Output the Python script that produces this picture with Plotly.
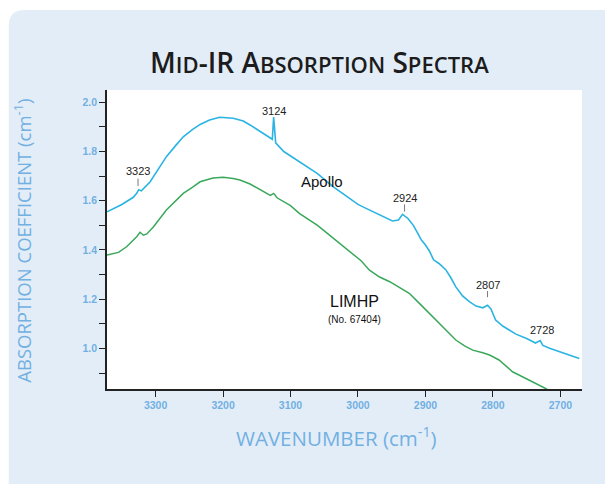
import plotly.graph_objects as go

# ---------------- data ----------------
apollo_wn = [3372, 3350, 3333, 3328, 3325, 3321, 3308, 3295, 3284, 3270, 3259, 3245, 3234, 3220,
             3205, 3185, 3170, 3160, 3145, 3131, 3127, 3125, 3122, 3110, 3087, 3060, 3037, 3013,
             3000, 2988, 2975, 2963, 2949, 2940, 2934, 2926, 2918, 2912, 2906, 2900, 2894, 2888,
             2880, 2870, 2863, 2855, 2845, 2835, 2825, 2815, 2808, 2803, 2796, 2785, 2766, 2750,
             2737, 2730, 2726, 2715, 2697, 2672]
apollo_abs = [1.555, 1.585, 1.614, 1.630, 1.645, 1.640, 1.677, 1.730, 1.779, 1.825, 1.860, 1.890, 1.910, 1.928,
              1.939, 1.935, 1.924, 1.908, 1.880, 1.854, 1.850, 1.940, 1.835, 1.800, 1.759, 1.710, 1.657, 1.612,
              1.585, 1.569, 1.552, 1.535, 1.518, 1.522, 1.545, 1.528, 1.500, 1.470, 1.440, 1.420, 1.395, 1.360,
              1.345, 1.320, 1.290, 1.250, 1.213, 1.190, 1.172, 1.165, 1.175, 1.160, 1.115, 1.090, 1.058, 1.040,
              1.022, 1.032, 1.012, 1.000, 0.983, 0.959]

limhp_wn = [3372, 3355, 3343, 3333, 3328, 3323, 3318, 3313, 3303, 3284, 3270, 3259, 3245, 3234, 3215,
            3200, 3185, 3175, 3160, 3146, 3130, 3125, 3120, 3100, 3087, 3060, 3040, 3013, 2995, 2983,
            2968, 2953, 2940, 2924, 2909, 2895, 2884, 2870, 2855, 2842, 2830, 2815, 2805, 2791, 2780,
            2771, 2760, 2746, 2722, 2712]
limhp_abs = [1.379, 1.390, 1.413, 1.440, 1.454, 1.472, 1.460, 1.465, 1.494, 1.562, 1.600, 1.630, 1.655, 1.677, 1.692,
             1.695, 1.690, 1.684, 1.668, 1.646, 1.622, 1.630, 1.612, 1.580, 1.549, 1.500, 1.455, 1.395, 1.355, 1.318,
             1.290, 1.271, 1.250, 1.224, 1.183, 1.145, 1.115, 1.075, 1.034, 1.010, 0.993, 0.982, 0.973, 0.953, 0.928,
             0.905, 0.890, 0.871, 0.837, 0.820]

peak_labels = ["3323", "3124", "2924", "2807", "2728"]
peak_label_x = [3326, 3125, 2931, 2808, 2727]
peak_label_y = [1.722, 1.963, 1.611, 1.257, 1.074]
peak_has_tick = [True, False, True, True, False]
peak_tick_top = [1.690, None, 1.585, 1.233, None]
peak_tick_bot = [1.660, None, 1.556, 1.208, None]

x_ticks = [3300, 3200, 3100, 3000, 2900, 2800, 2700]
y_ticks = [1.0, 1.2, 1.4, 1.6, 1.8, 2.0]

# ---------------- figure ----------------
OFF = 8  # default page body margin
W, H = 613, 484
# plot area in page pixels: x 107.3..582.5, y 90..389
L = 107.3 - OFF
R = W - (582.5 - OFF)
T = 90 - OFF
B = H - (389 - OFF)
pw, ph = W - L - R, H - T - B

def px2paper(x, y):
    """page-pixel coordinates -> paper coordinates"""
    fx, fy = x - OFF, y - OFF
    return (fx - L) / pw, (H - B - fy) / ph

BLUE = "#2ab4e2"
GREEN = "#3aa85a"
PANEL = "#e3edf8"
LABEL_BLUE = "#72b0e2"

fig = go.Figure()
fig.add_trace(go.Scatter(x=apollo_wn, y=apollo_abs, mode="lines",
                         line=dict(color=BLUE, width=1.6), name="Apollo", hoverinfo="skip"))
fig.add_trace(go.Scatter(x=limhp_wn, y=limhp_abs, mode="lines",
                         line=dict(color=GREEN, width=1.5), name="LIMHP", hoverinfo="skip"))

shapes = []
p0 = px2paper(9, 500)
p1 = px2paper(9, 26)
pc = px2paper(9, 10)
p2 = px2paper(25, 10)
p3 = px2paper(630, 10)
p4 = px2paper(630, 500)
path = (f"M {p0[0]},{p0[1]} L {p1[0]},{p1[1]} Q {pc[0]},{pc[1]} {p2[0]},{p2[1]} "
        f"L {p3[0]},{p3[1]} L {p4[0]},{p4[1]} Z")
shapes.append(dict(type="path", path=path, xref="paper", yref="paper",
                   fillcolor=PANEL, line=dict(width=0), layer="below"))
shapes.append(dict(type="rect", x0=0, x1=1, y0=0, y1=1, xref="paper", yref="paper",
                   fillcolor="white", line=dict(width=0), layer="below"))

annotations = []
for lab, lx, ly, has, tt, tb in zip(peak_labels, peak_label_x, peak_label_y,
                                     peak_has_tick, peak_tick_top, peak_tick_bot):
    annotations.append(dict(x=lx, y=ly, text=lab, showarrow=False, xref="x", yref="y",
                            xanchor="center", yanchor="middle",
                            font=dict(family="Liberation Sans, Arial", size=11, color="#222")))
    if has:
        shapes.append(dict(type="line", x0=lx, x1=lx, y0=tb, y1=tt, xref="x", yref="y",
                           line=dict(color="#555", width=0.8)))

annotations.append(dict(x=3054, y=1.68, text="Apollo", showarrow=False,
                        xanchor="center", yanchor="middle",
                        font=dict(family="Liberation Sans, Arial", size=15, color="#111")))
annotations.append(dict(x=3005, y=1.19, text="LIMHP", showarrow=False,
                        xanchor="center", yanchor="middle",
                        font=dict(family="Liberation Sans, Arial", size=16, color="#111")))
annotations.append(dict(x=3005, y=1.118, text="(No. 67404)", showarrow=False,
                        xanchor="center", yanchor="middle",
                        font=dict(family="Liberation Sans, Arial", size=10, color="#111")))

# title with small caps (initial capitals and acronym "IR" full size)
def small_caps(words, big, small):
    out = []
    for w, bigmask in words:
        s = ""
        for ch, isbig in zip(w, bigmask):
            size = big if isbig == "1" else small
            s += f"<span style='font-size:{size}px'>{ch}</span>"
        out.append(s)
    return " ".join(out)

title_text = small_caps([("MID-IR", "100111"), ("ABSORPTION", "1000000000"), ("SPECTRA", "1000000")],
                        big=28, small=22)
tx, ty = px2paper(320, 62)
annotations.append(dict(x=tx, y=ty, xref="paper", yref="paper", text=title_text, showarrow=False,
                        xanchor="center", yanchor="middle",
                        font=dict(family="Open Sans", size=28, color="#1c1c1c", weight=600)))

# axis titles
ax_x, ax_y = px2paper(337, 437)
annotations.append(dict(x=ax_x, y=ax_y, xref="paper", yref="paper",
                        text="WAVENUMBER (cm<sup>-1</sup>)", showarrow=False,
                        xanchor="center", yanchor="middle",
                        font=dict(family="Open Sans", size=20.5, color=LABEL_BLUE)))
ay_x, ay_y = px2paper(22, 241)
annotations.append(dict(x=ay_x, y=ay_y, xref="paper", yref="paper", textangle=-90,
                        text="ABSORPTION COEFFICIENT (cm<sup>-1</sup>)", showarrow=False,
                        xanchor="center", yanchor="middle",
                        font=dict(family="Open Sans", size=18.5, color=LABEL_BLUE)))

tickfont = dict(family="Liberation Sans, Arial", size=10.5, color=LABEL_BLUE, weight="bold")

fig.update_layout(
    width=W, height=H,
    margin=dict(l=L, r=R, t=T, b=B),
    paper_bgcolor="white",
    plot_bgcolor="white",
    showlegend=False,
    shapes=shapes,
    annotations=annotations,
    xaxis=dict(range=[3372, 2668], tickvals=x_ticks, ticktext=[str(v) for v in x_ticks],
               showgrid=False, zeroline=False, showline=True, linecolor="#222", linewidth=1.5,
               ticks="outside", ticklen=6, tickwidth=1.3, tickcolor="#222",
               tickfont=tickfont, fixedrange=True),
    yaxis=dict(range=[0.835, 2.05], tickvals=y_ticks, ticktext=[f"{v:.1f}" for v in y_ticks],
               showgrid=False, zeroline=False, showline=True, linecolor="#222", linewidth=1.5,
               ticks="outside", ticklen=6, tickwidth=1.3, tickcolor="#222",
               tickfont=tickfont, fixedrange=True,
               minor=dict(tickvals=[0.9, 1.1, 1.3, 1.5, 1.7, 1.9], ticks="outside",
                          ticklen=6, tickwidth=1.3, tickcolor="#222", showgrid=False)),
)

fig.write_html("out.html")
